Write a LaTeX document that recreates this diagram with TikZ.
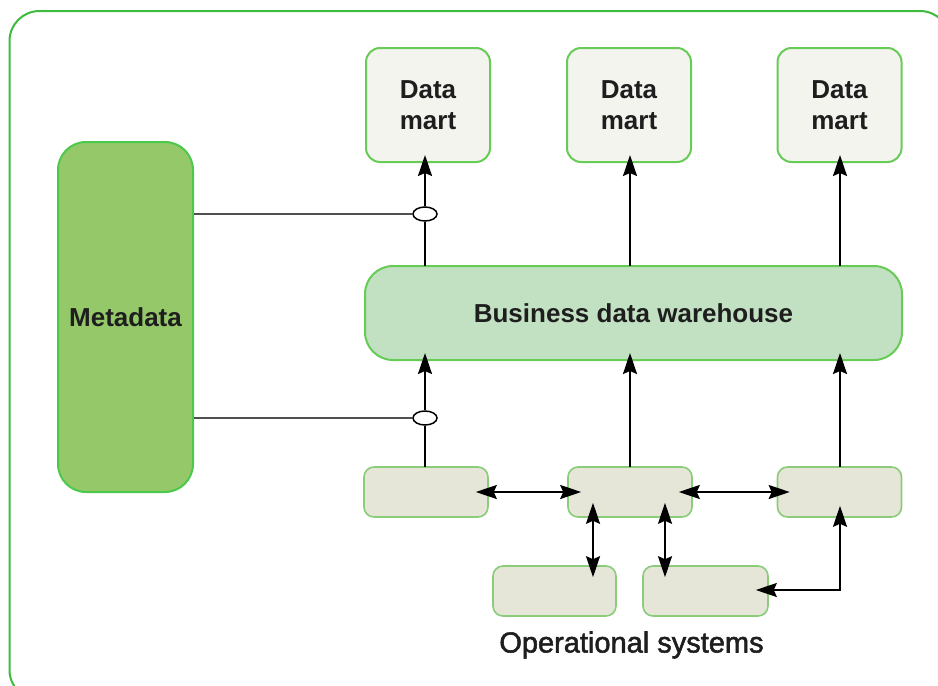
\documentclass[tikz,border=0pt]{standalone}
\usepackage{fontspec}
\setmainfont{Liberation Sans}
\newfontfamily\opsfont[FakeBold=1.8]{Liberation Sans}
\usetikzlibrary{arrows.meta,shapes.geometric}

\definecolor{framegreen}{HTML}{3DBB3D}
\definecolor{metafill}{HTML}{94C868}
\definecolor{metaedge}{HTML}{4CC84C}
\definecolor{whfill}{HTML}{C2E0C2}
\definecolor{boxedge}{HTML}{66CC55}
\definecolor{martfill}{HTML}{F4F4EF}
\definecolor{opfill}{HTML}{E6E6D8}
\definecolor{opedge}{HTML}{8ACC7A}
\definecolor{inktext}{HTML}{1E1E1E}
\definecolor{linkgray}{HTML}{505050}

\begin{document}
\begin{tikzpicture}[x=1pt,y=-1pt,
  >={Stealth[length=21pt,width=14pt,inset=3pt]},
  lbl/.style={text=inktext,font=\fontsize{26}{31}\selectfont\bfseries,align=center},
  metabox/.style={draw=metaedge,fill=metafill,line width=2pt,rounded corners=28pt,
    minimum width=135pt,minimum height=350pt,inner sep=0pt,lbl},
  martbox/.style={draw=boxedge,fill=martfill,line width=2pt,rounded corners=14pt,
    minimum width=124pt,minimum height=114pt,inner sep=0pt,lbl},
  whbox/.style={draw=boxedge,fill=whfill,line width=2pt,rounded corners=28pt,
    minimum width=537pt,minimum height=94pt,inner sep=0pt,lbl},
  opbox/.style={draw=opedge,fill=opfill,line width=1.6pt,rounded corners=10pt,
    minimum width=124pt,minimum height=50pt,inner sep=0pt},
  tap/.style={draw=black,fill=white,line width=1.5pt,ellipse,minimum width=24pt,
    minimum height=14pt,inner sep=0pt},
  flow/.style={draw=black,line width=2pt,->},
  both/.style={draw=black,line width=2pt,<->},
  plain/.style={draw=black,line width=2pt},
  link/.style={draw=linkgray,line width=1.6pt}
]
\useasboundingbox (0,0) rectangle (938,686);
\clip (0,0) rectangle (938,686);

% outer frame (runs past the page edge on the right and bottom)
\draw[framegreen,line width=2pt,rounded corners=30pt] (9.5,11) rectangle (950,700);

% boxes
\node[metabox] (meta) at (125.5,317) {Metadata};
\node[martbox] (m1) at (428,105) {Data\\mart};
\node[martbox] (m2) at (629,105) {Data\\mart};
\node[martbox] (m3) at (839.5,105) {Data\\mart};
\node[whbox] (wh) at (633.5,313) {Business data warehouse};

\node[opbox] (oa) at (426,492) {};
\node[opbox] (ob) at (630,492) {};
\node[opbox] (oc) at (839.5,492) {};
\node[opbox,minimum width=123pt] (od) at (554.5,591) {};
\node[opbox,minimum width=125pt] (oe) at (705.5,591) {};

\node[text=inktext,font=\opsfont\fontsize{29}{34}\selectfont] (ops) at (631.5,645) {Operational systems};

% taps on the first column
\node[tap] (t1) at (425,214) {};
\node[tap] (t2) at (425,418) {};

% warehouse up to the data marts
\coordinate (w1) at (425,266);
\coordinate (w2) at (630,266);
\coordinate (w3) at (840,266);
\coordinate (d1) at (425,155);
\coordinate (d2) at (630,155);
\coordinate (d3) at (840,155);
\path[plain] (w1) -- (t1);
\path[flow] (t1) -- (d1);
\path[flow] (w2) -- (d2);
\path[flow] (w3) -- (d3);

% operational systems up to the warehouse
\coordinate (a1) at (425,467);
\coordinate (a2) at (630,467);
\coordinate (a3) at (840,467);
\coordinate (h1) at (425,353);
\coordinate (h2) at (630,353);
\coordinate (h3) at (840,353);
\path[plain] (a1) -- (t2);
\path[flow] (t2) -- (h1);
\path[flow] (a2) -- (h2);
\path[flow] (a3) -- (h3);

% metadata links
\path[link] (meta.east |- t1) -- (t1.west);
\path[link] (meta.east |- t2) -- (t2.west);

% exchanges between operational systems
\coordinate (bdx) at (593,0);
\coordinate (bex) at (665,0);
\path[both] ([xshift=-13pt]oa.east) -- ([xshift=14pt]ob.west);
\path[both] ([xshift=-14pt]ob.east) -- ([xshift=13pt]oc.west);
\path[both] ([yshift=15pt]ob.south -| bdx) -- ([yshift=-12pt]od.north -| bdx);
\path[both] ([yshift=15pt]ob.south -| bex) -- ([yshift=-12pt]oe.north -| bex);
\coordinate (bend) at (840,590);
\path[both] ([yshift=12pt]oc.south -| bend) -- (bend) -- ([xshift=-13pt]oe.east |- bend);
\end{tikzpicture}
\end{document}
